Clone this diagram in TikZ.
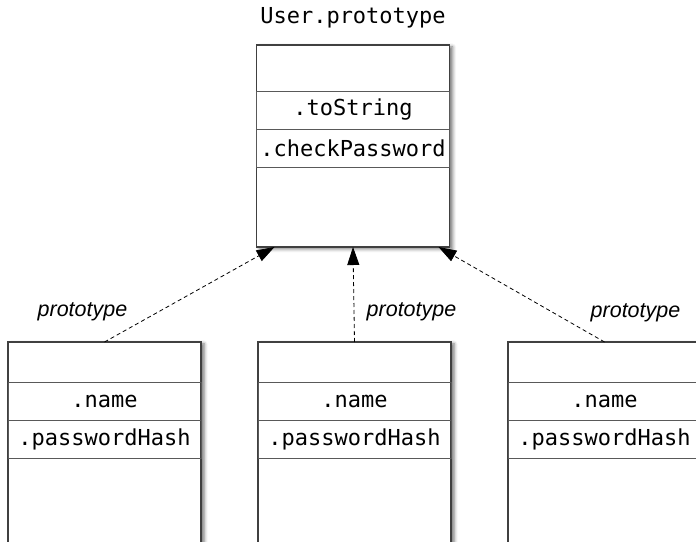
\documentclass[tikz,border=0pt]{standalone}
\usepackage{fontspec}
\setmainfont{Liberation Sans}
\setmonofont{DejaVu Sans Mono}
\usetikzlibrary{arrows.meta,calc,positioning,shadows.blur}
\newdimen\hdim
\newdimen\wdim
\newdimen\rdim
\hdim=202pt
\wdim=193pt
\rdim=38pt
\tikzstyle{object}=[
  draw=black!75,
  fill=white,
  inner sep=0pt,
  line width=1.2pt,
  minimum height=\hdim,
  minimum width=\wdim,
  outer sep=0pt,
  rectangle,
  blur shadow={shadow xshift=3pt, shadow yshift=-2pt,
    shadow blur radius=3.5pt, shadow opacity=55},
]
\tikzstyle{slot}=[
  draw=black!65,
  font={\fontsize{22}{24}\selectfont\ttfamily},
  inner sep=0pt,
  line width=0.8pt,
  minimum height=\rdim,
  minimum width=\wdim,
  outer sep=0pt,
  rectangle,
  text centered,
]
\tikzstyle{title}=[
  font={\fontsize{22}{24}\selectfont\ttfamily},
]
\tikzstyle{link}=[
  draw=black,
  line width=0.8pt,
  dash pattern=on 4pt off 3pt,
]
\tikzstyle{linklabel}=[
  font={\fontsize{21.5}{24}\selectfont\itshape},
]
\tikzset{
  x=1pt, y=1pt,
  node distance=250pt,
  >={Triangle[length=18pt, width=12pt]},
}

\begin{document}
\begin{tikzpicture}
  \useasboundingbox (0,0) rectangle (696,541);
  %% prototype object
  \node (proto) [object] at (353,395) {};
  \node (protoname) [title, above=13pt of proto] {User.prototype};
  \node (tostring) [slot, below=46pt of proto.north] {.toString};
  \node (checkpw) [slot, below=0pt of tostring] {.checkPassword};
  %% instances
  \node (userA) [object] at (104.5,98) {};
  \node (userB) [object, right of=userA] {};
  \node (userC) [object, right of=userB] {};
  \foreach \u in {userA,userB,userC}{
    \node (\u name) [slot, below=40pt of \u.north] {.name};
    \node (\u hash) [slot, below=0pt of \u name] {.passwordHash};
  }
  %% links
  \coordinate (inA) at ($(proto.south west)+(18,0)$);
  \coordinate (inB) at (proto.south);
  \coordinate (inC) at ($(proto.south east)+(-11,0)$);
  \draw [->, link] (userA.north) -- (inA);
  \draw [->, link] (userB.north) -- (inB);
  \draw [->, link] (userC.north) -- (inC);
  \node (protoA) [linklabel] at ($(userA.north)+(-22,30)$) {prototype};
  \node (protoB) [linklabel] at ($(userB.north)+(57,30)$) {prototype};
  \node (protoC) [linklabel] at ($(userC.north)+(31,29)$) {prototype};
\end{tikzpicture}
\end{document}
